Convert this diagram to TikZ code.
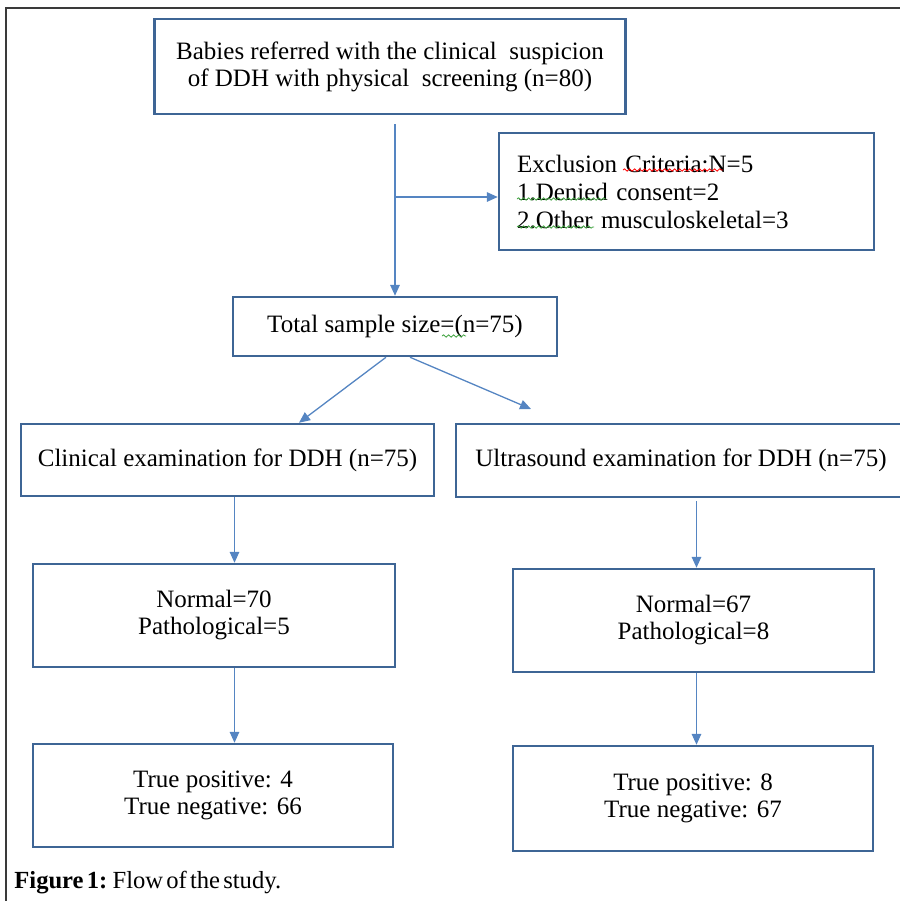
\documentclass[tikz,border=0pt]{standalone}
\usepackage{fontspec}
\setmainfont{Liberation Serif}
\usetikzlibrary{calc,arrows.meta,decorations.pathmorphing}
\definecolor{boxblue}{HTML}{3E6595}
\definecolor{arrblue}{HTML}{5585C2}
\definecolor{framegray}{HTML}{3A3A3A}
\definecolor{spellgreen}{HTML}{3FA33F}
\tikzset{
  box/.style={draw=boxblue, line width=1.25pt, fill=white, align=center, inner sep=2pt,
    font=\fontsize{12.5}{13.5}\selectfont},
  arr/.style={draw=arrblue, line width=0.65pt, -{Triangle[length=5.5pt,width=4.8pt]}},
  squig/.style={line width=0.4pt, decorate, decoration={snake, segment length=2.5pt, amplitude=0.6pt}}
}

\begin{document}
\begin{tikzpicture}[x=0.5pt, y=-0.5pt]
			%%%%% START %%%%%
			\useasboundingbox (0,0) rectangle (900,901);
			\draw[framegray, line width=1pt] (900,8) -- (6,8) -- (6,901);
			
			\node[box, minimum width=235.5pt, minimum height=47.5pt] (babies) at (390,66.5) {Babies referred with the clinical\ \ suspicion\\of DDH with physical\ \ screening (n=80)};
			\node[box, align=left, text width=169.5pt, inner xsep=9pt, minimum height=58.5pt,
			  font=\fontsize{12.5}{14}\selectfont] (excl) at (686.5,191.5) {Exclusion Criteria:N=5\\1.Denied consent=2\\2.Other musculoskeletal=3};
			\node[box, minimum width=162pt, minimum height=29.5pt] (total) at (395,326.5) {Total sample size=(n=75)};
			
			\node[box, minimum width=206.5pt, minimum height=36pt] (clin) at (227.5,460) {Clinical examination for DDH (n=75)};
			\node[box, minimum width=225pt, minimum height=36.5pt] (us) at (681,460.5) {Ultrasound examination for DDH (n=75)};
			
			\node[box, minimum width=181pt, minimum height=51.5pt] (clinres) at (214,615.5) {Normal=70\\Pathological=5};
			\node[box, minimum width=180.5pt, minimum height=51.5pt] (usres) at (693.5,620.5) {Normal=67\\Pathological=8};
			
			\node[box, minimum width=180pt, minimum height=51.5pt] (clintrue) at (213,795.5) {True positive: 4\\True negative: 66};
			\node[box, minimum width=180pt, minimum height=52.5pt] (ustrue) at (693,798.5) {True positive: 8\\True negative: 67};
			
			\node[anchor=base west, inner sep=0pt, font=\fontsize{12.3}{14}\selectfont] (caption) at (14,888) {\spaceskip=1.6pt\textbf{Figure 1:} Flow of the study.};
			
			% spelling marks
			\draw[squig, red] (623,170) -- (723,170);
			\draw[squig, spellgreen] (517,199) -- (606,199);
			\draw[squig, spellgreen] (517,227) -- (594,227);
			\draw[squig, spellgreen] (442,336) -- (466,336);
			
			% arrows
			\coordinate (split) at (395,197);
			\coordinate (usend) at (531,409);
			\coordinate (leftx) at (234.5,0);
			\coordinate (rightx) at (696.5,0);
			\draw[arr] ($(babies.south)+(5,9)$) -- (total.north);
			\draw[arr] (split) -- (split -| excl.west);
			\draw[arr] ($(total.south)+(-9,0)$) -- ($(clin.north)+(71.5,0)$);
			\draw[arr] ($(total.south)+(15,0)$) -- (usend);
			\draw[arr] (clin.south -| leftx) -- (clinres.north -| leftx);
			\draw[arr] (clinres.south -| leftx) -- (clintrue.north -| leftx);
			\draw[arr] ($(us.south -| rightx)+(0,3)$) -- (usres.north -| rightx);
			\draw[arr] (usres.south -| rightx) -- (ustrue.north -| rightx);
			%%%%% END %%%%%
\end{tikzpicture}
\end{document}
